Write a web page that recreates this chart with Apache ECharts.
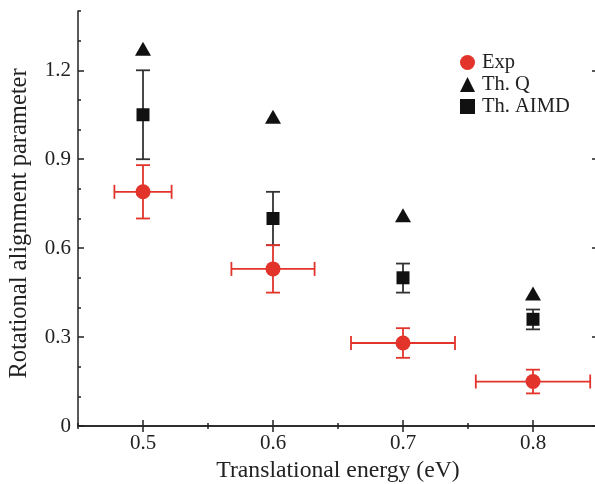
<!DOCTYPE html>
<html><head><meta charset="utf-8">
<script src="https://cdn.jsdelivr.net/npm/echarts@6/dist/echarts.min.js"></script>
<style>html,body{margin:0;padding:0;background:#fff}#c{width:595px;height:484px}</style>
</head><body><div id="c"></div>
<script>
// ---- data ----
const energies = [0.5, 0.6, 0.7, 0.8];
const expY = [0.79, 0.53, 0.28, 0.15];
const expYLo = [0.70, 0.45, 0.23, 0.11];
const expYHi = [0.88, 0.61, 0.33, 0.19];
const expXLo = [0.478, 0.568, 0.660, 0.756];
const expXHi = [0.522, 0.632, 0.740, 0.844];
const thQY = [1.273, 1.043, 0.711, 0.447];
const aimdY = [1.05, 0.70, 0.50, 0.36];
const aimdYLo = [0.90, 0.61, 0.45, 0.326];
const aimdYHi = [1.20, 0.79, 0.548, 0.393];
const xMajorTicks = [0.5, 0.6, 0.7, 0.8];
const yMajorTicks = [0, 0.3, 0.6, 0.9, 1.2];
const seriesNames = ['Exp', 'Th. Q', 'Th. AIMD'];

const RED = '#e2342a', BLK = '#111111', AX = '#222222';
const FONT = '"Liberation Serif", "DejaVu Serif", serif';

function errRender(color) {
  return function (params, api) {
    const x = api.value(0), y = api.value(1);
    const xl = api.value(2), xh = api.value(3), yl = api.value(4), yh = api.value(5);
    const cap = 7;
    const st = { stroke: color, lineWidth: 1.8 };
    const ch = [];
    if (yl !== yh) {
      const a = api.coord([x, yl]), b = api.coord([x, yh]);
      ch.push({ type: 'line', shape: { x1: a[0], y1: a[1], x2: b[0], y2: b[1] }, style: st });
      ch.push({ type: 'line', shape: { x1: a[0] - cap, y1: a[1], x2: a[0] + cap, y2: a[1] }, style: st });
      ch.push({ type: 'line', shape: { x1: b[0] - cap, y1: b[1], x2: b[0] + cap, y2: b[1] }, style: st });
    }
    if (xl !== xh) {
      const a = api.coord([xl, y]), b = api.coord([xh, y]);
      ch.push({ type: 'line', shape: { x1: a[0], y1: a[1], x2: b[0], y2: b[1] }, style: st });
      ch.push({ type: 'line', shape: { x1: a[0], y1: a[1] - cap, x2: a[0], y2: a[1] + cap }, style: st });
      ch.push({ type: 'line', shape: { x1: b[0], y1: b[1] - cap, x2: b[0], y2: b[1] + cap }, style: st });
    }
    return { type: 'group', children: ch };
  };
}

const expErrData = energies.map((x, i) => [x, expY[i], expXLo[i], expXHi[i], expYLo[i], expYHi[i]]);
const aimdErrData = energies.map((x, i) => [x, aimdY[i], x, x, aimdYLo[i], aimdYHi[i]]);

const gridRect = { left: 78, top: 11, width: 520, height: 415, outerBoundsMode: 'none', containLabel: false };
const xBase = { type: 'value', min: 0.45, max: 0.85, interval: 0.05, splitLine: { show: false } };
const yBase = { type: 'value', min: 0, max: 1.4, interval: 0.1, splitLine: { show: false } };
const lineStyle = { color: AX, width: 1.5 };

const option = {
  animation: false,
  backgroundColor: '#fff',
  textStyle: { fontFamily: FONT },
  grid: [Object.assign({}, gridRect), Object.assign({}, gridRect)],
  xAxis: [
    Object.assign({}, xBase, { gridIndex: 0, position: 'bottom',
      axisLine: { show: true, lineStyle }, axisTick: { show: true, inside: true, length: 3, lineStyle },
      axisLabel: { show: true, customValues: xMajorTicks, margin: 7, color: '#222', fontSize: 21, fontFamily: FONT },
      name: 'Translational energy (eV)', nameLocation: 'middle', nameGap: 33,
      nameTextStyle: { fontSize: 23.7, color: '#222', fontFamily: FONT } }),
    Object.assign({}, xBase, { gridIndex: 0, position: 'top',
      axisLine: { show: true, lineStyle }, axisTick: { show: true, inside: true, length: 3, lineStyle },
      axisLabel: { show: false } }),
    Object.assign({}, xBase, { gridIndex: 1, position: 'bottom',
      axisLine: { show: false }, axisTick: { show: true, inside: true, length: 6, customValues: xMajorTicks, lineStyle },
      axisLabel: { show: false } }),
    Object.assign({}, xBase, { gridIndex: 1, position: 'top',
      axisLine: { show: false }, axisTick: { show: true, inside: true, length: 6, customValues: xMajorTicks, lineStyle },
      axisLabel: { show: false } })
  ],
  yAxis: [
    Object.assign({}, yBase, { gridIndex: 0, position: 'left',
      axisLine: { show: true, lineStyle }, axisTick: { show: true, inside: true, length: 3, lineStyle },
      axisLabel: { show: true, customValues: yMajorTicks, margin: 7, color: '#222', fontSize: 21, fontFamily: FONT },
      name: 'Rotational alignment parameter', nameLocation: 'middle', nameGap: 46,
      nameTextStyle: { fontSize: 24.5, color: '#222', fontFamily: FONT, padding: [0, 10, 0, 0] } }),
    Object.assign({}, yBase, { gridIndex: 0, position: 'right',
      axisLine: { show: true, lineStyle }, axisTick: { show: true, inside: true, length: 3, lineStyle },
      axisLabel: { show: false } }),
    Object.assign({}, yBase, { gridIndex: 1, position: 'left',
      axisLine: { show: false }, axisTick: { show: true, inside: true, length: 6, customValues: yMajorTicks, lineStyle },
      axisLabel: { show: false } }),
    Object.assign({}, yBase, { gridIndex: 1, position: 'right',
      axisLine: { show: false }, axisTick: { show: true, inside: true, length: 6, customValues: yMajorTicks, lineStyle },
      axisLabel: { show: false } })
  ],
  legend: {
    orient: 'vertical', left: 455, top: 47, itemGap: 1, itemWidth: 15, itemHeight: 15,
    data: [
      { name: seriesNames[0], icon: 'circle', itemStyle: { color: RED, opacity: 1 } },
      { name: seriesNames[1], icon: 'triangle', itemStyle: { color: BLK, opacity: 1 } },
      { name: seriesNames[2], icon: 'rect', itemStyle: { color: BLK, opacity: 1 } }
    ],
    textStyle: { fontSize: 20.5, color: '#222', fontFamily: FONT, padding: [0, 0, 0, 2] }
  },
  series: [
    { name: 'aimdErr', type: 'custom', xAxisIndex: 0, yAxisIndex: 0, renderItem: errRender('#333'),
      data: aimdErrData, encode: { x: 0, y: 1 }, z: 2, silent: true },
    { name: seriesNames[1], type: 'scatter', xAxisIndex: 0, yAxisIndex: 0, symbol: 'triangle', symbolSize: [16, 14],
      itemStyle: { color: BLK, opacity: 1 }, data: energies.map((x, i) => [x, thQY[i]]), z: 3 },
    { name: seriesNames[2], type: 'scatter', xAxisIndex: 0, yAxisIndex: 0, symbol: 'rect', symbolSize: 13,
      itemStyle: { color: BLK, opacity: 1 }, data: energies.map((x, i) => [x, aimdY[i]]), z: 3 },
    { name: 'expErr', type: 'custom', xAxisIndex: 0, yAxisIndex: 0, renderItem: errRender(RED),
      data: expErrData, encode: { x: 0, y: 1 }, z: 4, silent: true },
    { name: seriesNames[0], type: 'scatter', xAxisIndex: 0, yAxisIndex: 0, symbol: 'circle', symbolSize: 15,
      itemStyle: { color: RED, opacity: 1 }, data: energies.map((x, i) => [x, expY[i]]), z: 5 }
  ]
};
const chart = echarts.init(document.getElementById('c'), null, { renderer: 'canvas' });
chart.setOption(option);
</script></body></html>
